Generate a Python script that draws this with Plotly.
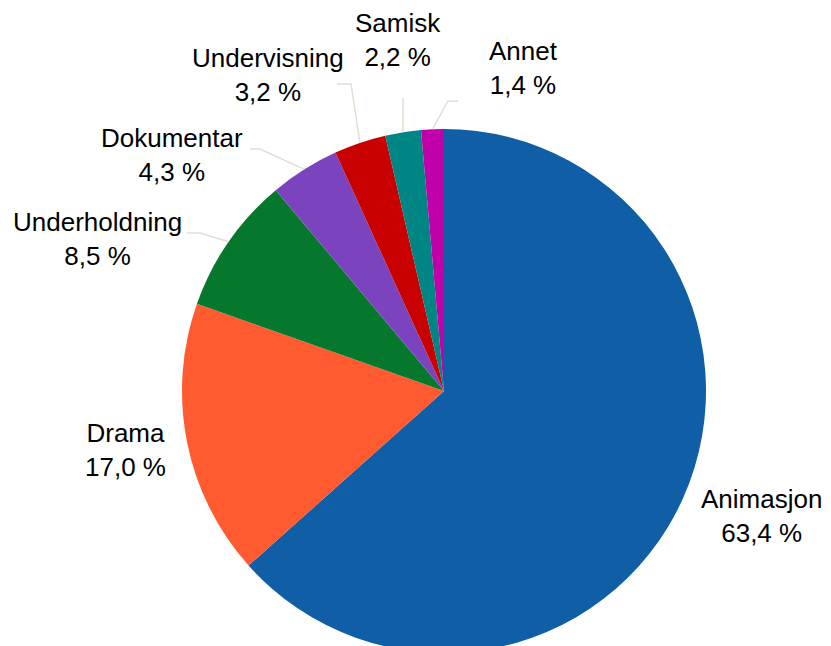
import math

import plotly.graph_objects as go

categories = ["Animasjon", "Drama", "Underholdning", "Dokumentar", "Undervisning", "Samisk", "Annet"]
shares = [63.4, 17.0, 8.5, 4.3, 3.2, 2.2, 1.4]
colors = ["#0f5ea6", "#ff5a30", "#05782d", "#7b44be", "#c80000", "#008585", "#c000a8"]

W, H = 831, 646
OFF = 8  # the page body margin shifts the figure by this much
# pie centre and radius in screen pixels
CX, CY, R = 444, 391, 262

# where each label sits (centre of text block, px) and where its leader line starts
label_pos = {
    "Animasjon": (761, 516),
    "Drama": (125, 450),
    "Underholdning": (97, 239),
    "Dokumentar": (172, 155),
    "Undervisning": (268, 75),
    "Samisk": (398, 40),
    "Annet": (523, 68),
}
leader_start = {
    "Underholdning": [(187, 233), (200, 233)],
    "Dokumentar": [(250, 149), (260, 149)],
    "Undervisning": [(337, 84), (351, 84)],
    "Samisk": [(403, 98)],
    "Annet": [(458, 101), (448, 101)],
}


def px(x, y):
    return (x - OFF) / W, 1 - (y - OFF) / H


def fmt(v):
    return f"{v:.1f}".replace(".", ",") + " %"


x0, y1 = px(CX - R, CY - R)
x1, y0 = px(CX + R, CY + R)

fig = go.Figure(go.Pie(
    labels=categories,
    values=shares,
    sort=False,
    direction="clockwise",
    rotation=0,
    marker=dict(colors=colors, line=dict(width=0)),
    textinfo="none",
    hoverinfo="label+percent",
    domain=dict(x=[x0, x1], y=[max(y0, 0), y1]),
    showlegend=False,
))

total = sum(shares)
cum = 0
annotations = []
shapes = []
for name, v in zip(categories, shares):
    theta = 2 * math.pi * (cum + v / 2) / total
    cum += v
    ex = CX + R * math.sin(theta)
    ey = CY - R * math.cos(theta)

    ax, ay = px(*label_pos[name])
    annotations.append(dict(
        x=ax, y=ay, xref="paper", yref="paper",
        text=f"{name}<br>{fmt(v)}",
        showarrow=False, xanchor="center", yanchor="middle",
        font=dict(family="Liberation Sans, Arial", size=26, color="#000000"),
    ))

    if name in leader_start:
        pts = [px(*p) for p in leader_start[name]] + [px(ex, ey)]
        path = "M " + " L ".join(f"{a:.5f},{b:.5f}" for a, b in pts)
        shapes.append(dict(type="path", path=path, xref="paper", yref="paper",
                           line=dict(color="#e3ded3", width=1.5)))

fig.update_layout(
    width=W,
    height=H,
    margin=dict(l=0, r=0, t=0, b=0),
    paper_bgcolor="white",
    plot_bgcolor="white",
    annotations=annotations,
    shapes=shapes,
)

fig.write_html("out.html")
